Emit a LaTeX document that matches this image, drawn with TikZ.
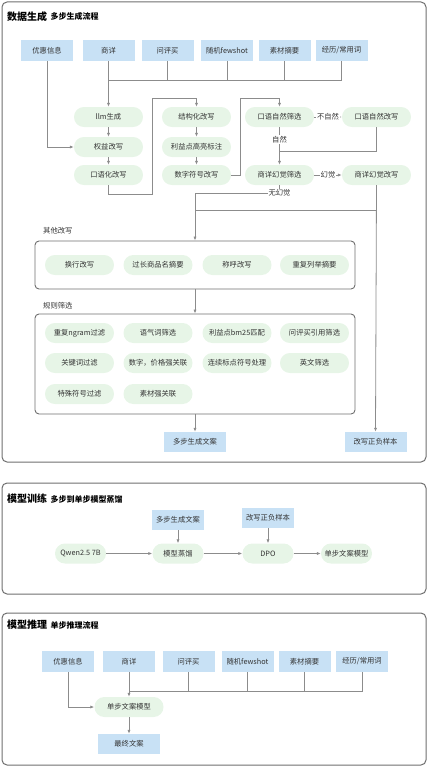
\documentclass[tikz,border=0pt]{standalone}
\usepackage{fontspec}
\setmainfont{Noto Sans CJK SC}
\usetikzlibrary{arrows.meta}
\definecolor{bluefill}{HTML}{C8E1F5}
\definecolor{greenfill}{HTML}{E7F5E7}
\definecolor{linec}{HTML}{8C8C8C}
\definecolor{framec}{HTML}{6E6E6E}
\definecolor{txt}{HTML}{333333}
\begin{document}
\begin{tikzpicture}[x=1pt,y=-1pt,
  bluebox/.style={fill=bluefill, draw=none, minimum width=52pt, minimum height=21pt, inner sep=0pt, font=\fontsize{7.3}{8.5}\selectfont, text=txt},
  widebox/.style={bluebox, minimum width=62pt, minimum height=20pt},
  pill/.style={fill=greenfill, draw=none, rounded corners=9.9pt, minimum width=69pt, minimum height=20pt, inner sep=0pt, font=\fontsize{7.3}{8.5}\selectfont, text=txt},
  spill/.style={pill, minimum width=51pt},
  conn/.style={draw=linec, line width=0.8pt, -{Latex[length=4pt,width=3.2pt]}},
  plain/.style={draw=linec, line width=0.8pt},
  lab/.style={fill=white, inner sep=1pt, font=\fontsize{7.3}{8.5}\selectfont, text=txt},
  outer/.style={draw=framec, line width=1pt, rounded corners=5pt},
  inner/.style={draw=framec, line width=0.9pt, rounded corners=4pt, minimum width=320pt, inner sep=0pt},
  title/.style={inner sep=0pt, font=\fontsize{10}{12}\selectfont\bfseries, text=black},
  subtitle/.style={inner sep=0pt, font=\fontsize{8}{9.5}\selectfont\bfseries, text=black},
  grouplab/.style={inner sep=0pt, font=\fontsize{7.3}{8.5}\selectfont, text=txt, anchor=west}
]
\useasboundingbox (0,0) rectangle (429,768);

% ---------------- Section 1 ----------------
\draw[outer] (2,2) rectangle (426,462);
\node[title, anchor=west] (t1) at (7,16.5) {数据生成};
\node[subtitle, anchor=west] at ([xshift=3pt]t1.east) {多步生成流程};

\node[bluebox] (a1) at (47,50.5) {优惠信息};
\node[bluebox] (a2) at (108.5,50.5) {商详};
\node[bluebox] (a3) at (167.5,50.5) {问评买};
\node[bluebox] (a4) at (227,50.5) {随机fewshot};
\node[bluebox] (a5) at (284.5,50.5) {素材摘要};
\node[bluebox] (a6) at (341.5,50.5) {经历/常用词};

\node[pill] (llm) at (108.5,117) {llm生成};
\node[pill] (quan) at (108.5,147) {权益改写};
\node[pill] (kou) at (108.5,175) {口语化改写};
\node[pill] (jie) at (196.5,117) {结构化改写};
\node[pill] (li) at (196.5,147) {利益点高亮标注};
\node[pill] (shu) at (196.5,175) {数字符号改写};
\node[pill] (ky) at (279.5,117) {口语自然筛选};
\node[pill] (kyg) at (376.5,117) {口语自然改写};
\node[pill] (sx) at (279.5,175) {商详幻觉筛选};
\node[pill] (sxg) at (376.5,175) {商详幻觉改写};

\coordinate (bus1) at (108.5,80);
\draw[plain] (a6.south) |- (bus1);
\draw[plain] (a3.south) -- (a3.south |- bus1);
\draw[plain] (a4.south) -- (a4.south |- bus1);
\draw[plain] (a5.south) -- (a5.south |- bus1);
\draw[conn] (a2.south) -- (llm.north);
\draw[conn] (a1.south) |- (quan.west);
\draw[conn] (llm) -- (quan);
\draw[conn] (quan) -- (kou);

\coordinate (c1) at (152,194);
\coordinate (c2) at (152,98);
\draw[conn] (kou.south) |- (c1) -- (c2) -| (jie.north);
\draw[conn] (jie) -- (li);
\draw[conn] (li) -- (shu);
\coordinate (c3) at (240,98);
\draw[conn] (shu.east) -| (c3) -| (ky.north);

\draw[conn] (ky) -- node[lab] {不自然} (kyg);
\draw[conn] (ky) -- node[lab, pos=0.32] {自然} (sx);
\coordinate (j1) at (279.5,151);
\draw[plain] (kyg.south) |- (j1);
\draw[conn] (sx) -- node[lab] {幻觉} (sxg);

% group frames
\node[grouplab] (g1) at (43,231) {其他改写};
\node[inner, minimum height=48pt] (other) at (195,265) {};
\node[grouplab] (g2) at (43,305.5) {规则筛选};
\node[inner, minimum height=100pt] (rules) at (195,364) {};

\coordinate (j2) at (195,193);
\draw[conn] (sx.south) |- (j2) -- (other.north);
\node[lab] at (279.5,193) {无幻觉};
\coordinate (j3) at (195,210.5);
\draw[plain] (sxg.south) |- (j3);

\node[pill] (o1) at (79.5,265) {换行改写};
\node[pill] (o2) at (158,265) {过长商品名摘要};
\node[pill] (o3) at (237,265) {称呼改写};
\node[pill] (o4) at (314.5,265) {重复列举摘要};

\node[pill] (r1) at (79.5,333) {重复ngram过滤};
\node[pill] (r2) at (158,333) {语气词筛选};
\node[pill] (r3) at (237,333) {利益点bm25匹配};
\node[pill] (r4) at (314.5,333) {问评买引用筛选};
\node[pill] (r5) at (79.5,363) {关键词过滤};
\node[pill] (r6) at (158,363) {数字，价格强关联};
\node[pill] (r7) at (237,363) {连续标点符号处理};
\node[pill] (r8) at (314.5,363) {英文筛选};
\node[pill] (r9) at (79.5,394) {特殊符号过滤};
\node[pill] (r10) at (158,394) {素材强关联};

\node[widebox] (multi) at (195,442) {多步生成文案};
\node[widebox] (neg) at (375.5,442) {改写正负样本};
\draw[conn] (other.south) -- (rules.north);
\draw[conn] (rules.south) -- (multi.north);
\draw[conn] (sxg.south) -- (neg.north);

% ---------------- Section 2 ----------------
\draw[outer] (2,483) rectangle (426,594);
\node[title, anchor=west] (t2) at (7,499) {模型训练};
\node[subtitle, anchor=west] at ([xshift=3pt]t2.east) {多步到单步模型蒸馏};

\node[bluebox, minimum height=20pt] (b1) at (178,520) {多步生成文案};
\node[bluebox, minimum height=20pt] (b2) at (268,518) {改写正负样本};
\node[spill] (p1) at (80.5,553.5) {Qwen2.5 7B};
\node[spill] (p2) at (178,553.5) {模型蒸馏};
\node[spill] (p3) at (268,553.5) {DPO};
\node[spill] (p4) at (346.5,553.5) {单步文案模型};
\draw[conn] (b1) -- (p2);
\draw[conn] (b2) -- (p3);
\draw[conn] (p1) -- (p2);
\draw[conn] (p2) -- (p3);
\draw[conn] (p3) -- (p4);

% ---------------- Section 3 ----------------
\draw[outer] (2,613) rectangle (426,765);
\node[title, anchor=west] (t3) at (7,625) {模型推理};
\node[subtitle, anchor=west] at ([xshift=3pt]t3.east) {单步推理流程};

\node[bluebox] (d1) at (68,661.5) {优惠信息};
\node[bluebox] (d2) at (129,661.5) {商详};
\node[bluebox] (d3) at (188.5,661.5) {问评买};
\node[bluebox] (d4) at (247.5,661.5) {随机fewshot};
\node[bluebox] (d5) at (304.5,661.5) {素材摘要};
\node[bluebox] (d6) at (362,661.5) {经历/常用词};
\node[pill] (m) at (129,707) {单步文案模型};
\node[widebox] (fin) at (129,744) {最终文案};

\coordinate (bus3) at (129,691);
\draw[plain] (d6.south) |- (bus3);
\draw[plain] (d3.south) -- (d3.south |- bus3);
\draw[plain] (d4.south) -- (d4.south |- bus3);
\draw[plain] (d5.south) -- (d5.south |- bus3);
\draw[conn] (d2.south) -- (m.north);
\draw[conn] (d1.south) |- (m.west);
\draw[conn] (m) -- (fin);
\end{tikzpicture}
\end{document}
